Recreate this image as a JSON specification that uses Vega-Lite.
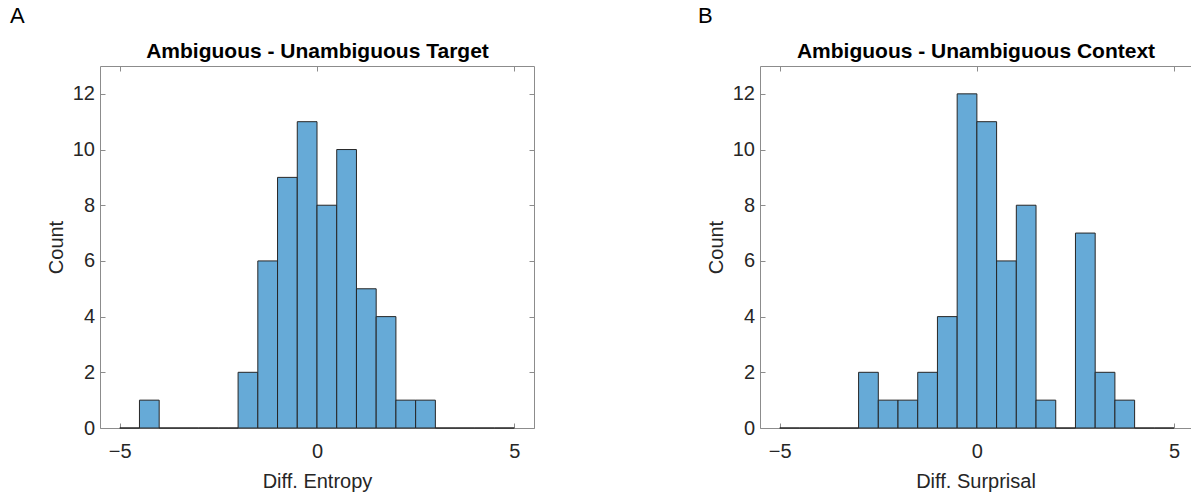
{
  "$schema": "https://vega.github.io/schema/vega-lite/v6.json",
  "padding": {"left": 10, "right": 0, "top": 4, "bottom": 1},
  "background": "white",
  "config": {
    "font": "Liberation Sans",
    "view": {"stroke": null},
    "axis": {
      "grid": false,
      "labelFont": "Liberation Sans",
      "titleFont": "Liberation Sans",
      "labelFontSize": 20,
      "titleFontSize": 20,
      "labelColor": "#262626",
      "titleColor": "#262626",
      "titleFontWeight": "normal",
      "domainColor": "#8c8c8c",
      "tickColor": "#8c8c8c",
      "domainWidth": 1,
      "tickWidth": 1,
      "tickSize": -5
    },
    "title": {"font": "Liberation Sans"}
  },
  "datasets": {
    "hist": [
      {"panel": "A", "bin_start": -5.0, "bin_end": -4.5, "count": 0},
      {"panel": "A", "bin_start": -4.5, "bin_end": -4.0, "count": 1},
      {"panel": "A", "bin_start": -4.0, "bin_end": -3.5, "count": 0},
      {"panel": "A", "bin_start": -3.5, "bin_end": -3.0, "count": 0},
      {"panel": "A", "bin_start": -3.0, "bin_end": -2.5, "count": 0},
      {"panel": "A", "bin_start": -2.5, "bin_end": -2.0, "count": 0},
      {"panel": "A", "bin_start": -2.0, "bin_end": -1.5, "count": 2},
      {"panel": "A", "bin_start": -1.5, "bin_end": -1.0, "count": 6},
      {"panel": "A", "bin_start": -1.0, "bin_end": -0.5, "count": 9},
      {"panel": "A", "bin_start": -0.5, "bin_end": 0.0, "count": 11},
      {"panel": "A", "bin_start": 0.0, "bin_end": 0.5, "count": 8},
      {"panel": "A", "bin_start": 0.5, "bin_end": 1.0, "count": 10},
      {"panel": "A", "bin_start": 1.0, "bin_end": 1.5, "count": 5},
      {"panel": "A", "bin_start": 1.5, "bin_end": 2.0, "count": 4},
      {"panel": "A", "bin_start": 2.0, "bin_end": 2.5, "count": 1},
      {"panel": "A", "bin_start": 2.5, "bin_end": 3.0, "count": 1},
      {"panel": "A", "bin_start": 3.0, "bin_end": 3.5, "count": 0},
      {"panel": "A", "bin_start": 3.5, "bin_end": 4.0, "count": 0},
      {"panel": "A", "bin_start": 4.0, "bin_end": 4.5, "count": 0},
      {"panel": "A", "bin_start": 4.5, "bin_end": 5.0, "count": 0},
      {"panel": "B", "bin_start": -5.0, "bin_end": -4.5, "count": 0},
      {"panel": "B", "bin_start": -4.5, "bin_end": -4.0, "count": 0},
      {"panel": "B", "bin_start": -4.0, "bin_end": -3.5, "count": 0},
      {"panel": "B", "bin_start": -3.5, "bin_end": -3.0, "count": 0},
      {"panel": "B", "bin_start": -3.0, "bin_end": -2.5, "count": 2},
      {"panel": "B", "bin_start": -2.5, "bin_end": -2.0, "count": 1},
      {"panel": "B", "bin_start": -2.0, "bin_end": -1.5, "count": 1},
      {"panel": "B", "bin_start": -1.5, "bin_end": -1.0, "count": 2},
      {"panel": "B", "bin_start": -1.0, "bin_end": -0.5, "count": 4},
      {"panel": "B", "bin_start": -0.5, "bin_end": 0.0, "count": 12},
      {"panel": "B", "bin_start": 0.0, "bin_end": 0.5, "count": 11},
      {"panel": "B", "bin_start": 0.5, "bin_end": 1.0, "count": 6},
      {"panel": "B", "bin_start": 1.0, "bin_end": 1.5, "count": 8},
      {"panel": "B", "bin_start": 1.5, "bin_end": 2.0, "count": 1},
      {"panel": "B", "bin_start": 2.0, "bin_end": 2.5, "count": 0},
      {"panel": "B", "bin_start": 2.5, "bin_end": 3.0, "count": 7},
      {"panel": "B", "bin_start": 3.0, "bin_end": 3.5, "count": 2},
      {"panel": "B", "bin_start": 3.5, "bin_end": 4.0, "count": 1},
      {"panel": "B", "bin_start": 4.0, "bin_end": 4.5, "count": 0},
      {"panel": "B", "bin_start": 4.5, "bin_end": 5.0, "count": 0}
    ]
  },
  "spacing": 226,
  "bounds": "flush",
  "hconcat": [
    {
      "width": 434,
      "height": 362,
      "title": {"text": "A", "anchor": "start", "frame": "group", "dx": -90, "fontSize": 22, "fontWeight": "normal", "color": "#000000", "offset": 13},
      "data": {"name": "hist"},
      "transform": [{"filter": "datum.panel === 'A'"}],
      "resolve": {"axis": {"x": "independent", "y": "independent"}},
      "layer": [
        {
          "mark": {"type": "bar", "fill": "#66aad7", "stroke": "#262626", "strokeWidth": 1},
          "encoding": {
            "x": {"field": "bin_start", "type": "quantitative", "scale": {"domain": [-5.5, 5.5], "nice": false, "zero": false},
                  "axis": {"orient": "bottom", "title": "Diff. Entropy", "values": [-5, 0, 5], "labelPadding": 18, "titlePadding": 10}},
            "x2": {"field": "bin_end"},
            "y": {"field": "count", "type": "quantitative", "scale": {"domain": [0, 13], "nice": false},
                  "axis": {"orient": "left", "title": "Count", "values": [0, 2, 4, 6, 8, 10, 12], "labelPadding": 10.5, "titlePadding": 6}},
            "y2": {"datum": 0}
          }
        },
        {
          "mark": {"type": "point", "opacity": 0},
          "encoding": {
            "x": {"field": "bin_start", "type": "quantitative",
                  "axis": {"orient": "top", "title": "Ambiguous - Unambiguous Target", "values": [-5, 0, 5], "labels": false, "titleFontWeight": "bold", "titleFontSize": 21, "titleColor": "#000000", "titlePadding": 4}},
            "y": {"field": "count", "type": "quantitative",
                  "axis": {"orient": "right", "title": null, "values": [0, 2, 4, 6, 8, 10, 12], "labels": false}}
          }
        }
      ]
    },
    {
      "width": 431,
      "height": 362,
      "title": {"text": "B", "anchor": "start", "frame": "group", "dx": -62, "fontSize": 22, "fontWeight": "normal", "color": "#000000", "offset": 13},
      "data": {"name": "hist"},
      "transform": [{"filter": "datum.panel === 'B'"}],
      "resolve": {"axis": {"x": "independent", "y": "independent"}},
      "layer": [
        {
          "mark": {"type": "bar", "fill": "#66aad7", "stroke": "#262626", "strokeWidth": 1},
          "encoding": {
            "x": {"field": "bin_start", "type": "quantitative", "scale": {"domain": [-5.5, 5.43], "nice": false, "zero": false},
                  "axis": {"orient": "bottom", "title": "Diff. Surprisal", "values": [-5, 0, 5], "labelPadding": 18, "titlePadding": 10}},
            "x2": {"field": "bin_end"},
            "y": {"field": "count", "type": "quantitative", "scale": {"domain": [0, 13], "nice": false},
                  "axis": {"orient": "left", "title": "Count", "values": [0, 2, 4, 6, 8, 10, 12], "labelPadding": 10.5, "titlePadding": 6}},
            "y2": {"datum": 0}
          }
        },
        {
          "mark": {"type": "point", "opacity": 0},
          "encoding": {
            "x": {"field": "bin_start", "type": "quantitative",
                  "axis": {"orient": "top", "title": "Ambiguous - Unambiguous Context", "values": [-5, 0, 5], "labels": false, "titleFontWeight": "bold", "titleFontSize": 21, "titleColor": "#000000", "titlePadding": 4}},
            "y": {"field": "count", "type": "quantitative", "axis": null}
          }
        }
      ]
    }
  ]
}
